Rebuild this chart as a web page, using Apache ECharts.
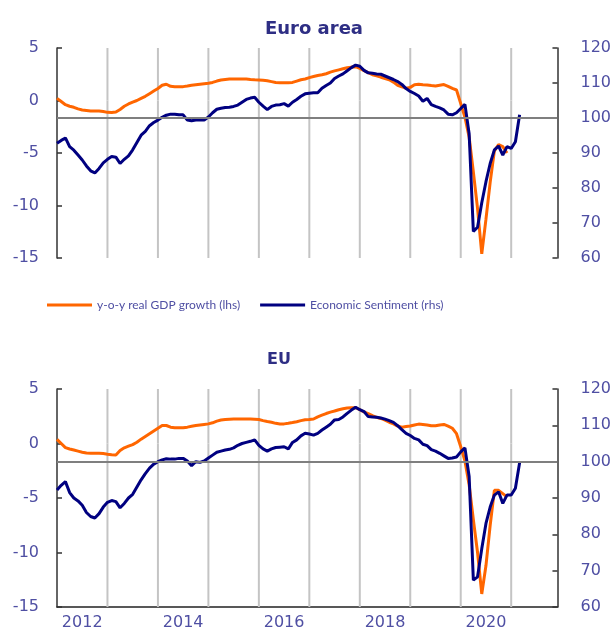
<!DOCTYPE html>
<html>
<head>
<meta charset="utf-8">
<script src="https://cdn.jsdelivr.net/npm/echarts@6/dist/echarts.min.js"></script>
<style>
	html, body { margin: 0; padding: 0; background: #fff; }
	#chart { width: 614px; height: 631px; }
</style>
</head>
<body>
<div id="chart"></div>
<script>
// monthly axis, Jan 2012 - Dec 2021
const years = [2012, 2013, 2014, 2015, 2016, 2017, 2018, 2019, 2020, 2021];
const months = years.flatMap((y) => Array.from({ length: 12 }, (_, i) => y + "-" + String(i + 1).padStart(2, "0")));

const lhsTicks = [-15, 5, 5];   // min, max, interval
const rhsTicks = [60, 120, 10];

// Euro area
const gdpEA = [
	0.2, -0.1, -0.4, -0.55, -0.65, -0.8, -0.9, -0.95, -1.0, -1.0, -1.0, -1.05,
	-1.13, -1.15, -1.1, -0.85, -0.55, -0.33, -0.15, 0.0, 0.2, 0.4, 0.65, 0.9,
	1.15, 1.45, 1.55, 1.35, 1.3, 1.3, 1.32, 1.38, 1.45, 1.5, 1.55, 1.6,
	1.65, 1.72, 1.85, 1.95, 2.0, 2.05, 2.05, 2.05, 2.05, 2.05, 2.0, 1.97,
	1.95, 1.92, 1.88, 1.8, 1.72, 1.7, 1.7, 1.7, 1.72, 1.85, 1.98, 2.05,
	2.18, 2.28, 2.38, 2.45, 2.55, 2.7, 2.82, 2.92, 3.02, 3.12, 3.18, 3.22,
	3.05, 2.85, 2.65, 2.45, 2.35, 2.22, 2.1, 1.98, 1.75, 1.45, 1.3, 1.18,
	1.25, 1.5, 1.55, 1.5, 1.48, 1.42, 1.38, 1.45, 1.52, 1.35, 1.15, 1.0,
	-0.3, -1.6, -3.5, -6.8, -10.3, -14.6, -11.3, -7.8, -4.8, -4.2, -4.4, -5.0
];
const esiEA = [
	92.8, 93.6, 94.3, 91.8, 90.8, 89.4, 88.0, 86.3, 84.9, 84.3, 85.6, 87.2,
	88.2, 89.0, 88.8, 87.0, 88.2, 89.2, 90.9, 93.0, 95.1, 96.2, 97.8, 98.7,
	99.4, 100.2, 100.8, 101.1, 101.1, 100.9, 100.9, 99.4, 99.2, 99.4, 99.4, 99.4,
	100.3, 101.5, 102.5, 102.8, 103.0, 103.1, 103.3, 103.7, 104.5, 105.3, 105.7, 105.9,
	104.5, 103.4, 102.4, 103.3, 103.7, 103.8, 104.1, 103.4, 104.5, 105.3, 106.2, 106.9,
	107.1, 107.2, 107.2, 108.5, 109.3, 110.0, 111.3, 112.0, 112.6, 113.5, 114.4, 115.1,
	114.8, 113.6, 112.9, 112.8, 112.6, 112.5, 112.0, 111.5, 111.0, 110.4, 109.6, 108.4,
	107.6, 107.0, 106.3, 104.8, 105.6, 103.8, 103.3, 102.9, 102.3, 101.1, 100.9, 101.5,
	102.7, 103.9, 95.5, 67.6, 68.8, 75.8, 81.8, 87.0, 90.9, 92.0, 89.4, 91.8,
	91.3, 93.2, 100.9
];

// EU
const gdpEU = [
	0.38, 0.0, -0.38, -0.5, -0.6, -0.7, -0.8, -0.88, -0.9, -0.9, -0.9, -0.92,
	-0.98, -1.03, -1.06, -0.65, -0.4, -0.25, -0.1, 0.12, 0.4, 0.65, 0.9, 1.15,
	1.4, 1.65, 1.65, 1.5, 1.45, 1.45, 1.45, 1.5, 1.58, 1.65, 1.7, 1.75,
	1.8, 1.9, 2.05, 2.15, 2.2, 2.23, 2.25, 2.25, 2.25, 2.25, 2.25, 2.23,
	2.2, 2.1, 2.02, 1.95, 1.85, 1.78, 1.8, 1.85, 1.92, 2.0, 2.1, 2.18,
	2.2, 2.25, 2.45, 2.6, 2.75, 2.88, 2.98, 3.1, 3.18, 3.25, 3.28, 3.28,
	3.1, 2.9, 2.75, 2.55, 2.4, 2.3, 2.15, 1.95, 1.8, 1.6, 1.5, 1.55,
	1.6, 1.7, 1.78, 1.75, 1.7, 1.62, 1.62, 1.7, 1.75, 1.6, 1.4, 0.9,
	-0.3, -1.6, -3.8, -7.0, -10.0, -13.8, -11.2, -7.5, -4.3, -4.3, -4.6, -4.9
];
const esiEU = [
	92.2, 93.5, 94.5, 91.5, 90.0, 89.2, 88.0, 86.0, 84.9, 84.5, 85.7, 87.5,
	88.8, 89.3, 89.0, 87.3, 88.5, 90.0, 91.0, 93.0, 95.0, 96.7, 98.2, 99.3,
	100.0, 100.5, 100.8, 100.7, 100.7, 100.9, 100.9, 100.2, 98.9, 100.0, 99.8, 100.2,
	101.0, 101.8, 102.6, 102.9, 103.2, 103.4, 103.8, 104.5, 105.0, 105.3, 105.6, 106.0,
	104.5, 103.5, 102.9, 103.5, 103.9, 104.0, 104.1, 103.5, 105.3, 106.0, 107.1, 107.8,
	107.6, 107.3, 107.8, 108.7, 109.5, 110.3, 111.5, 111.6, 112.3, 113.3, 114.2, 115.0,
	114.3, 113.8, 112.4, 112.3, 112.2, 112.0, 111.7, 111.3, 110.8, 109.9, 108.8, 107.8,
	107.2, 106.4, 106.0, 104.8, 104.4, 103.3, 102.9, 102.3, 101.6, 100.9, 101.0, 101.3,
	102.7, 103.8, 95.9, 67.4, 68.3, 76.0, 83.0, 87.5, 90.8, 91.7, 88.5, 90.8,
	90.8, 92.7, 99.7
];

const names = ["y-o-y real GDP growth (lhs)", "Economic Sentiment (rhs)"];
const panels = ["Euro area", "EU"];
const refLevel = 100;
// every January after the first gets a vertical rule
const yearStarts = years.slice(1).map((y) => y + "-01");

const ORANGE = "#ff6600";
const NAVY = "#000080";
const RULE = "#c4c4c4";
const LABEL = "#4f4fa3";
const TITLE = "#2e2e84";
const FONT = "DejaVu Sans";

const chart = echarts.init(document.getElementById("chart"));

const grids = [
	{ left: 57, right: 55, top: 48, height: 210 },
	{ left: 57, right: 55, top: 389, height: 218 },
];

function xAxisFor(i, showLabels) {
	return {
		type: "category",
		gridIndex: i,
		data: months,
		boundaryGap: false,
		axisLine: { show: showLabels, onZero: false, lineStyle: { color: "#222", width: 1.5 } },
		axisTick: { show: false },
		axisLabel: {
			show: showLabels,
			interval: (idx) => idx % 24 === 6,
			formatter: (v) => v.slice(0, 4),
			fontFamily: FONT,
			fontSize: 16,
			color: LABEL,
			margin: 8,
		},
		splitLine: { show: false },
	};
}

function yAxisFor(i, ticks, pos, margin) {
	return {
		type: "value",
		gridIndex: i,
		position: pos,
		min: ticks[0],
		max: ticks[1],
		interval: ticks[2],
		axisLine: { show: true, lineStyle: { color: "#333", width: 1.5 } },
		axisTick: { show: true, inside: true, length: 5, lineStyle: { color: "#333", width: 1.5 } },
		axisLabel: { fontFamily: FONT, fontSize: 16, color: LABEL, margin: margin },
		splitLine: { show: false },
	};
}

// year rules as 2px bars reaching the top and the bottom of the lhs scale
function ruleBar(i, level) {
	return {
		type: "bar",
		xAxisIndex: i,
		yAxisIndex: i * 2,
		stack: "rule" + i,
		barWidth: 2,
		silent: true,
		z: 1,
		itemStyle: { color: RULE },
		data: months.map((m) => (yearStarts.includes(m) ? level : "-")),
	};
}

function seriesFor(i, gdp, esi) {
	return [
		ruleBar(i, lhsTicks[1]),
		ruleBar(i, lhsTicks[0]),
		{
			type: "line",
			xAxisIndex: i,
			yAxisIndex: i * 2 + 1,
			data: [],
			z: 1,
			markLine: {
				silent: true,
				symbol: "none",
				label: { show: false },
				lineStyle: { color: "#7f7f7f", width: 2, type: "solid" },
				data: [{ yAxis: refLevel }],
			},
		},
		{
			name: names[0],
			type: "line",
			xAxisIndex: i,
			yAxisIndex: i * 2,
			data: gdp,
			showSymbol: false,
			z: 2,
			itemStyle: { color: ORANGE },
			lineStyle: { color: ORANGE, width: 3 },
		},
		{
			name: names[1],
			type: "line",
			xAxisIndex: i,
			yAxisIndex: i * 2 + 1,
			data: esi,
			showSymbol: false,
			z: 3,
			itemStyle: { color: NAVY },
			lineStyle: { color: NAVY, width: 3 },
		},
	];
}

chart.setOption({
	animation: false,
	backgroundColor: "#fff",
	title: [
		{ text: panels[0], left: 265, top: 20, padding: 0, textStyle: { fontFamily: FONT, fontSize: 18, fontWeight: "bold", color: TITLE } },
		{ text: panels[1], left: 267, top: 352, padding: 0, textStyle: { fontFamily: FONT, fontSize: 16, fontWeight: "bold", color: TITLE } },
	],
	legend: {
		data: names,
		left: 47,
		top: 299,
		padding: 0,
		icon: "rect",
		itemWidth: 45,
		itemHeight: 3,
		itemGap: 20,
		textStyle: { fontFamily: "Lato", fontSize: 12, color: LABEL },
	},
	grid: grids,
	xAxis: [xAxisFor(0, false), xAxisFor(1, true)],
	yAxis: [
		yAxisFor(0, lhsTicks, "left", 18),
		yAxisFor(0, rhsTicks, "right", 23),
		yAxisFor(1, lhsTicks, "left", 18),
		yAxisFor(1, rhsTicks, "right", 23),
	],
	series: [...seriesFor(0, gdpEA, esiEA), ...seriesFor(1, gdpEU, esiEU)],
});
</script>
</body>
</html>
